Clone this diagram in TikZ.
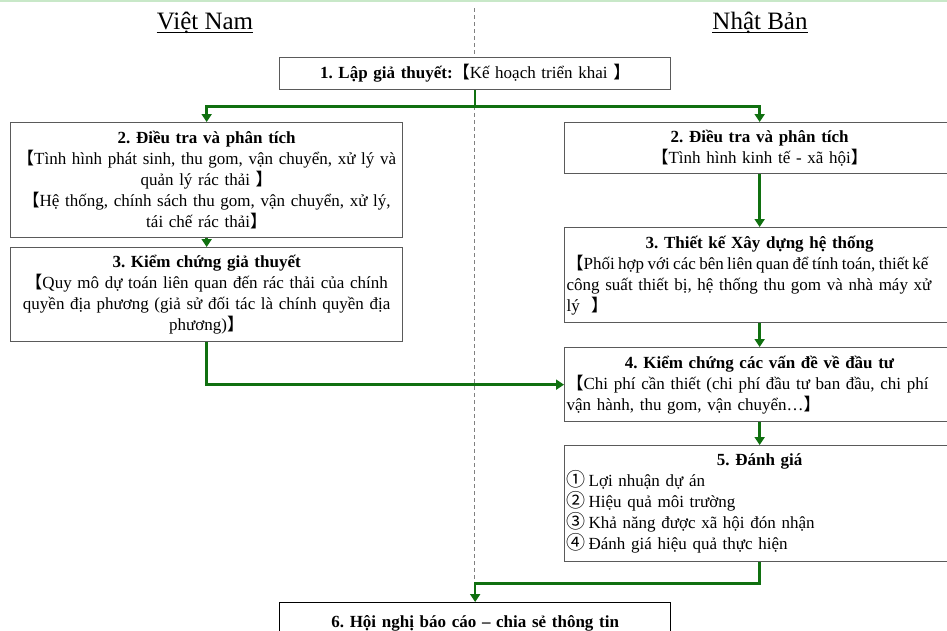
\documentclass[tikz,border=0pt]{standalone}
\usepackage{fontspec}
\setmainfont{Liberation Serif}
\newfontfamily\cjk{Noto Sans CJK JP}
\usetikzlibrary{arrows.meta}

\definecolor{flowgreen}{RGB}{16,112,16}
\definecolor{boxgray}{RGB}{90,90,90}
\definecolor{topband}{RGB}{200,232,200}

% full-width lenticular brackets and circled digits
\newcommand{\lbk}{{\cjk 【}}
\newcommand{\rbk}{{\cjk 】}}
\newcommand{\cnum}[1]{{\cjk\fontsize{19}{21}\selectfont #1}\hspace{3pt}}
% a line set with slightly tighter word spaces
\newcommand{\tightline}[1]{\mbox{\spaceskip=3.4pt plus 1pt\relax #1}}

\tikzset{
  stepbox/.style={draw=boxgray, line width=1.3pt, fill=white, anchor=north west,
    inner xsep=6pt, inner ysep=0pt, align=center,
    font=\fontsize{17}{21}\selectfont\frenchspacing},
  leftbox/.style={stepbox, inner xsep=2pt, align=left},
  flow/.style={draw=flowgreen, line width=2.4pt,
    -{Triangle[width=10pt,length=8pt]}},
  heading/.style={font=\fontsize{25}{30}\selectfont, inner sep=0pt, anchor=base},
  divider/.style={draw=gray, line width=1pt, dash pattern=on 4pt off 3pt}
}

\begin{document}
\begin{tikzpicture}[x=1pt,y=-1pt]
  \useasboundingbox (0,0) rectangle (947,630);
  \clip (0,0) rectangle (947,630);
  \fill[topband] (0,0) rectangle (947,1.6);

  % column headings
  \node[heading] (vn) at (205,29) {Việt Nam};
  \node[heading] (jp) at (760,29) {Nhật Bản};
  \draw[line width=1pt] ([yshift=-3.5pt]vn.base west) -- ([yshift=-3.5pt]vn.base east);
  \draw[line width=1pt] ([yshift=-3.5pt]jp.base west) -- ([yshift=-3.5pt]jp.base east);

  % centre divider
  \draw[divider] (474,8) -- (474,600);

  % step 1
  \node[stepbox, text width=379pt, minimum height=32pt] (b1) at (279,57)
    {\textbf{1. Lập giả thuyết:}\lbk Kế hoạch triển khai \rbk};

  % Vietnam column
  \node[stepbox, text width=380pt, minimum height=115pt] (vn2) at (10,122)
    {\textbf{2. Điều tra và phân tích}\\
     \lbk Tình hình phát sinh, thu gom, vận chuyển, xử lý và\\
     quản lý rác thải \rbk\\
     \lbk Hệ thống, chính sách thu gom, vận chuyển, xử lý,\\
     tái chế rác thải\rbk};
  \node[stepbox, text width=380pt, minimum height=94pt] (vn3) at (10,247)
    {\textbf{3. Kiểm chứng giả thuyết}\\
     \lbk Quy mô dự toán liên quan đến rác thải của chính\\
     quyền địa phương (giả sử đối tác là chính quyền địa\\
     phương)\rbk};

  % Japan column
  \node[stepbox, text width=378pt, minimum height=51pt] (jp2) at (564,122)
    {\textbf{2. Điều tra và phân tích}\\
     \lbk Tình hình kinh tế - xã hội\rbk};
  \node[leftbox, text width=386pt, minimum height=95pt] (jp3) at (564,227)
    {\makebox[\hsize]{\textbf{3. Thiết kế Xây dựng hệ thống}}\\
     \tightline{\lbk Phối hợp với các bên liên quan để tính toán, thiết kế}\\
     công suất thiết bị, hệ thống thu gom và nhà máy xử\\
     lý \ \rbk};
  \node[leftbox, text width=386pt, minimum height=74pt] (jp4) at (564,347)
    {\makebox[\hsize]{\textbf{4. Kiểm chứng các vấn đề về đầu tư}}\\
     \mbox{\lbk Chi phí cần thiết (chi phí đầu tư ban đầu, chi phí}\\
     vận hành, thu gom, vận chuyển…\rbk};
  \node[leftbox, text width=386pt, minimum height=116pt] (jp5) at (564,445)
    {\makebox[\hsize]{\textbf{5. Đánh giá}}\\
     \cnum{①}Lợi nhuận dự án\\
     \cnum{②}Hiệu quả môi trường\\
     \cnum{③}Khả năng được xã hội đón nhận\\
     \cnum{④}Đánh giá hiệu quả thực hiện};

  % step 6
  \node[stepbox, draw=black, text width=379pt, minimum height=48pt] (b6) at (279,602)
    {\raisebox{10pt}{\textbf{6. Hội nghị báo cáo – chia sẻ thông tin}}};

  % connectors
  \draw[flow] (b1.south) -- ++(0,16) -| (vn2.north);
  \draw[flow] (b1.south) -- ++(0,16) -| (jp2.north);
  \draw[flow] (vn2.south) -- (vn3.north);
  \draw[flow] (vn3.south) |- (jp4.west);
  \draw[flow] (jp2.south) -- (jp3.north);
  \draw[flow] (jp3.south) -- (jp4.north);
  \draw[flow] (jp4.south) -- (jp5.north);
  \draw[flow] (jp5.south) -- ++(0,21) -| (b6.north);
\end{tikzpicture}
\end{document}
